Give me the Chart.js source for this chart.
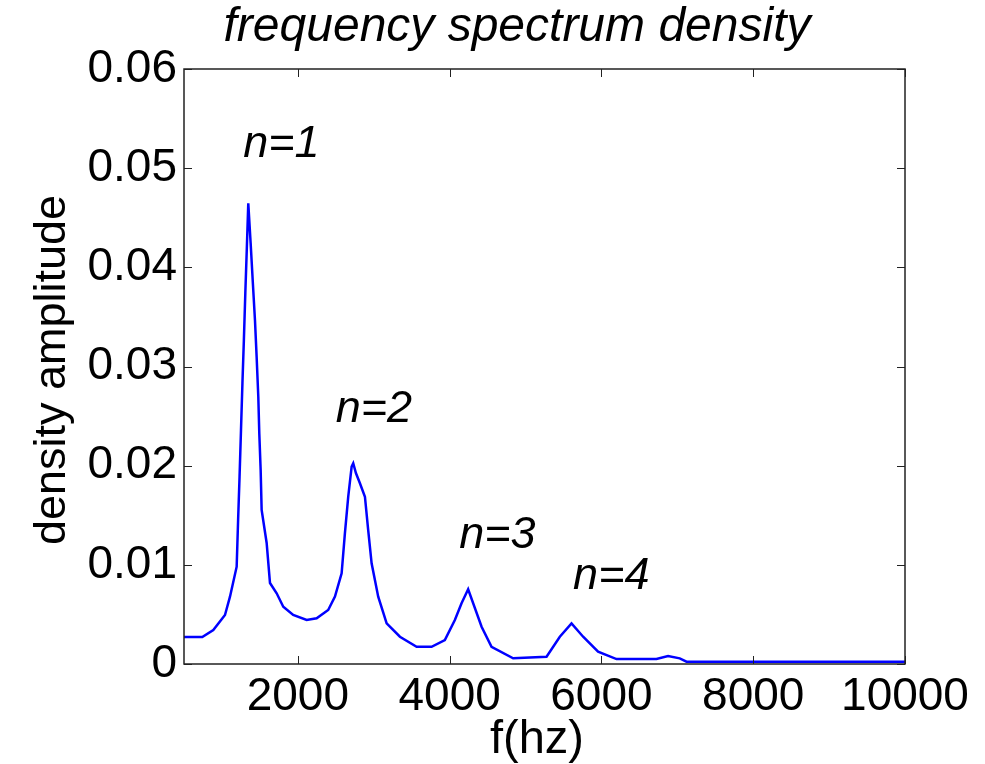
<!DOCTYPE html>
<html>
<head>
<meta charset="utf-8">
<title>frequency spectrum density</title>
<script src="https://cdn.jsdelivr.net/npm/chart.js@4.4.1/dist/chart.umd.min.js"></script>
<style>
  html, body { margin: 0; padding: 0; background: #fff; }
  #chart { display: block; }
</style>
</head>
<body>
<canvas id="chart" width="985" height="764"></canvas>
<script>
// spectrum (Hz, amplitude)
const freqHz = [
  500, 741, 886, 1040, 1106, 1194, 1213, 1232, 1251, 1270, 1289, 1308, 1327, 1347,
  1378, 1405, 1435, 1457, 1479, 1492, 1510, 1523, 1589, 1633, 1721, 1808, 1939,
  2116, 2248, 2400, 2489, 2577, 2620, 2664, 2709, 2730, 2765, 2818, 2884, 2927,
  2972, 3059, 3170, 3345, 3565, 3762, 3937, 4069, 4157, 4244, 4421, 4552, 4837,
  5277, 5452, 5606, 5759, 5956, 6199, 6725, 6878, 7032, 7121, 10000
];
const amplitude = [
  0.00272, 0.00272, 0.00343, 0.00494, 0.00679, 0.00981, 0.01452, 0.01889, 0.02360,
  0.02834, 0.03267, 0.03741, 0.04175, 0.04646, 0.04245, 0.03872, 0.03469, 0.03099,
  0.02695, 0.02326, 0.01956, 0.01553, 0.01220, 0.00817, 0.00713, 0.00578, 0.00494,
  0.00444, 0.00461, 0.00545, 0.00679, 0.00915, 0.01318, 0.01687, 0.01990, 0.02024,
  0.01926, 0.01822, 0.01687, 0.01351, 0.01015, 0.00679, 0.00410, 0.00275, 0.00174,
  0.00174, 0.00242, 0.00444, 0.00612, 0.00753, 0.00376, 0.00174, 0.00057, 0.00074,
  0.00275, 0.00410, 0.00275, 0.00124, 0.00050, 0.00050, 0.00081, 0.00057, 0.00023,
  0.00023
];

const xTickValues = [2000, 4000, 6000, 8000, 10000];
const yTickValues = [0, 0.01, 0.02, 0.03, 0.04, 0.05, 0.06];
const yTickLabels = ['0', '0.01', '0.02', '0.03', '0.04', '0.05', '0.06'];

// harmonic labels, placed in data units (centre of baseline)
const peakLabels = ['n=1', 'n=2', 'n=3', 'n=4'];
const peakLabelFreq = [1784, 3002, 4629, 6130];
const peakLabelAmp = [0.0511, 0.0244, 0.0117, 0.0076];

const FONT = 'Arial, "Liberation Sans", sans-serif';

function drawText(ctx, text, x, y, size, italic, angle) {
  ctx.save();
  ctx.translate(x, y);
  if (angle) ctx.rotate(angle);
  ctx.font = (italic ? 'italic ' : '') + size + 'px ' + FONT;
  ctx.fillStyle = '#000';
  ctx.textAlign = 'center';
  ctx.textBaseline = 'alphabetic';
  ctx.fillText(text, 0, 0);
  ctx.restore();
}

const matlabDecor = {
  id: 'matlabDecor',
  afterDatasetsDraw(chart) {
    const { ctx, chartArea: a, scales: { x, y } } = chart;
    const tick = 8;

    ctx.save();
    ctx.strokeStyle = '#222';
    ctx.lineWidth = 1.5;
    ctx.strokeRect(a.left, a.top, a.right - a.left, a.bottom - a.top);

    // tick marks point inwards, on all four sides
    ctx.beginPath();
    xTickValues.forEach(v => {
      const px = Math.round(x.getPixelForValue(v)) + 0.5;
      ctx.moveTo(px, a.bottom); ctx.lineTo(px, a.bottom - tick);
      ctx.moveTo(px, a.top); ctx.lineTo(px, a.top + tick);
    });
    yTickValues.forEach(v => {
      const py = Math.round(y.getPixelForValue(v)) + 0.5;
      ctx.moveTo(a.left, py); ctx.lineTo(a.left + tick, py);
      ctx.moveTo(a.right, py); ctx.lineTo(a.right - tick, py);
    });
    ctx.lineWidth = 1;
    ctx.stroke();
    ctx.restore();

    peakLabels.forEach((t, i) => {
      drawText(ctx, t, x.getPixelForValue(peakLabelFreq[i]), y.getPixelForValue(peakLabelAmp[i]), 45, true);
    });

    drawText(ctx, 'frequency spectrum density', 517, 41, 48, true);
    drawText(ctx, 'f(hz)', 537, 753, 47, false);
    drawText(ctx, 'density amplitude', 65, 370, 45, false, -Math.PI / 2);
  }
};

new Chart(document.getElementById('chart'), {
  type: 'line',
  data: {
    datasets: [{
      data: freqHz.map((f, i) => ({ x: f, y: amplitude[i] })),
      borderColor: '#0000ff',
      borderWidth: 2.5,
      pointRadius: 0,
      tension: 0,
      fill: false
    }]
  },
  options: {
    responsive: false,
    animation: false,
    devicePixelRatio: 1,
    layout: { padding: { left: 0, right: 80, top: 69, bottom: 0 } },
    plugins: {
      legend: { display: false },
      tooltip: { enabled: false },
      title: { display: false }
    },
    scales: {
      x: {
        type: 'linear',
        min: 500,
        max: 10000,
        grid: { display: false, drawTicks: false },
        border: { display: false },
        afterBuildTicks: s => { s.ticks = xTickValues.map(v => ({ value: v })); },
        afterFit: s => { s.height = 100; },
        ticks: {
          color: '#000',
          padding: 6,
          maxRotation: 0,
          font: { family: FONT, size: 46 },
          callback: v => String(v)
        }
      },
      y: {
        type: 'linear',
        min: 0,
        max: 0.06,
        grid: { display: false, drawTicks: false },
        border: { display: false },
        afterBuildTicks: s => { s.ticks = yTickValues.map(v => ({ value: v })); },
        afterFit: s => { s.width = 184; },
        ticks: {
          color: '#000',
          padding: 7,
          font: { family: FONT, size: 46 },
          callback: (v, i) => yTickLabels[i]
        }
      }
    }
  },
  plugins: [matlabDecor]
});
</script>
</body>
</html>
